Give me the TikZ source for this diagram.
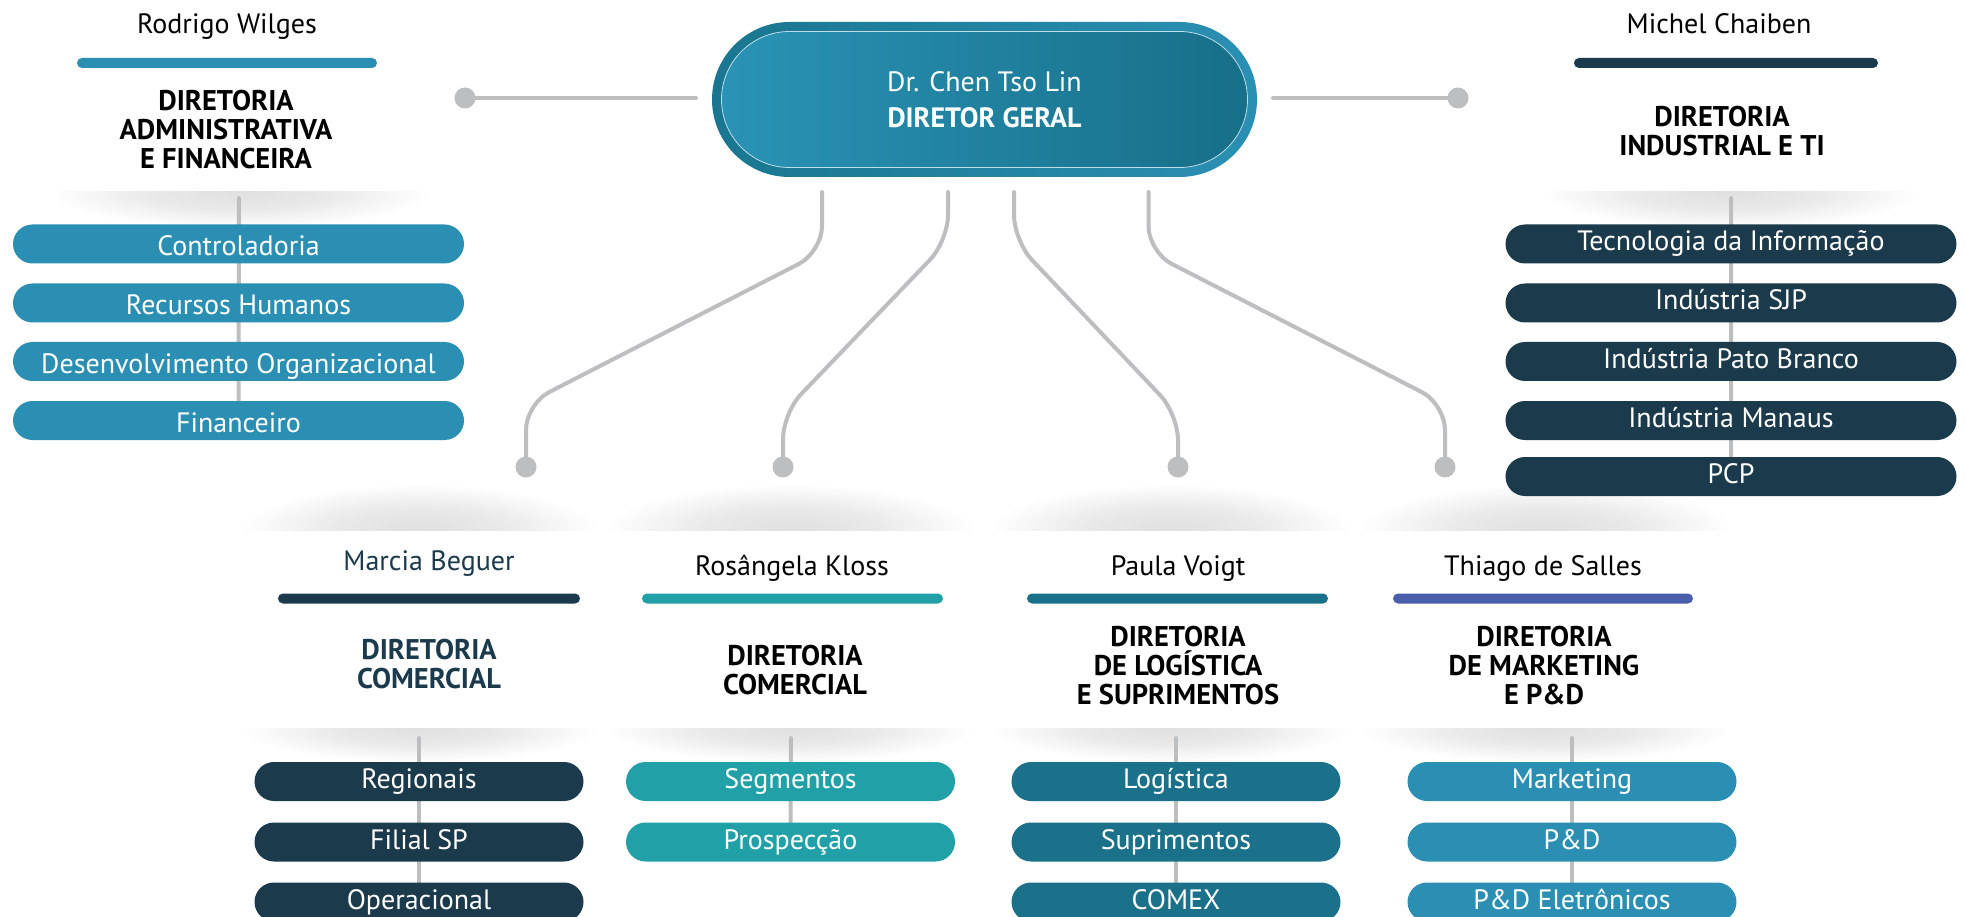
\documentclass[tikz,border=0pt]{standalone}
\usepackage{fontspec}
\setmainfont{PT Sans}
\usetikzlibrary{shapes.misc}
\definecolor{cBlue}{HTML}{2A8FB2}
\definecolor{cNavy}{HTML}{1B3A4B}
\definecolor{cTeal}{HTML}{21A0A8}
\definecolor{cDTeal}{HTML}{1A7189}
\definecolor{cIndigo}{HTML}{4A5FA9}
\definecolor{lineGray}{HTML}{BDBEC0}
\definecolor{shadowgray}{HTML}{E0E0E0}
\definecolor{ringL}{HTML}{1A7690}
\definecolor{ringR}{HTML}{2A90B3}
\definecolor{innerL}{HTML}{2A93B6}
\definecolor{innerR}{HTML}{176F88}
\pgfdeclarelayer{bglayer}
\pgfdeclarelayer{shadowlayer}
\pgfdeclarelayer{linelayer}
\pgfsetlayers{bglayer,shadowlayer,linelayer,main}
\pgfdeclareradialshading{softshadow}{\pgfpoint{0bp}{0bp}}{color(0bp)=(shadowgray); color(12bp)=(shadowgray!70!white); color(25bp)=(white); color(50bp)=(white)}
\newcommand{\downshadow}[4]{%
  \begin{scope}
    \clip (#1,#3) rectangle (#2,#3+#4);
    \shade[shading=softshadow] ({(#1+#2)/2},#3) ellipse ({(#2-#1)/2} and #4);
  \end{scope}}
\newcommand{\upshadow}[4]{%
  \begin{scope}
    \clip (#1,#3-#4) rectangle (#2,#3);
    \shade[shading=softshadow] ({(#1+#2)/2},#3) ellipse ({(#2-#1)/2} and #4);
  \end{scope}}
\tikzset{
  pill/.style={rounded rectangle, fill=#1, text=white, minimum height=39pt, inner sep=0pt,
    text height=14pt, text depth=0pt, font=\fontsize{28}{32}\selectfont},
  widepill/.style={pill=#1, minimum width=451pt},
  narrowpill/.style={pill=#1, minimum width=329pt},
  namelabel/.style={font=\fontsize{28}{32}\selectfont, anchor=base, inner sep=0pt},
  titlelabel/.style={font=\bfseries\fontsize{28.5}{29}\selectfont, align=center, anchor=north, inner sep=0pt},
  colorbar/.style={rounded rectangle, fill=#1, minimum height=10pt, inner sep=0pt},
  conn/.style={draw=lineGray, line width=4pt, line cap=round},
  dot/.style={circle, fill=lineGray, minimum size=21pt, inner sep=0pt},
}
\begin{document}
\begin{tikzpicture}[x=1pt,y=-1pt]
\useasboundingbox (0,0) rectangle (1966,917);
\begin{pgfonlayer}{bglayer}
  \fill[white] (0,0) rectangle (1966,917);
\end{pgfonlayer}

% ---------- shadows ----------
\begin{pgfonlayer}{shadowlayer}
  \downshadow{50}{430}{192}{36}
  \downshadow{1540}{1920}{192}{36}
  \upshadow{240}{598}{530}{46}
  \upshadow{605}{975}{530}{46}
  \upshadow{990}{1351}{530}{46}
  \upshadow{1358}{1733}{530}{46}
  \downshadow{240}{598}{728}{34}
  \downshadow{605}{975}{728}{34}
  \downshadow{990}{1351}{728}{34}
  \downshadow{1358}{1733}{728}{34}
\end{pgfonlayer}

% ---------- central node ----------
\node[rounded rectangle, minimum width=545pt, minimum height=155pt, inner sep=0pt,
  left color=ringL, right color=ringR] (ceo) at (984.5,99.5) {};
\node[rounded rectangle, minimum width=526pt, minimum height=136pt, inner sep=0pt,
  left color=innerL, right color=innerR, draw=white!70!cBlue, line width=0.8pt,
  text=white, align=center, font=\fontsize{28}{36}\selectfont] (ceoin) at (ceo.center)
  {Dr. Chen Tso Lin\\\textbf{DIRETOR GERAL}};

% ---------- left column ----------
\node[namelabel] (n1) at (227,34) {Rodrigo Wilges};
\node[colorbar=cBlue, minimum width=300pt] (bar1) at (227,63) {};
\node[titlelabel] (t1title) at (226,90) {DIRETORIA\\ADMINISTRATIVA\\E FINANCEIRA};
\node[widepill=cBlue, text height=24pt] (l1) at (238.5,244) {Controladoria};
\node[widepill=cBlue, text height=24pt] (l2) at (238.5,303) {Recursos Humanos};
\node[widepill=cBlue, text height=24pt] (l3) at (238.5,361.5) {Desenvolvimento Organizacional};
\node[widepill=cBlue, text height=24pt] (l4) at (238.5,420.5) {Financeiro};
\coordinate (ltop) at (239,198);

% ---------- right column ----------
\node[namelabel] (n2) at (1719,34) {Michel Chaiben};
\node[colorbar=cNavy, minimum width=304pt] (bar2) at (1726,63) {};
\node[titlelabel] (t2title) at (1722,106) {DIRETORIA\\INDUSTRIAL E TI};
\node[widepill=cNavy] (r1) at (1731,244) {Tecnologia da Informação};
\node[widepill=cNavy] (r2) at (1731,303) {Indústria SJP};
\node[widepill=cNavy] (r3) at (1731,361.5) {Indústria Pato Branco};
\node[widepill=cNavy] (r4) at (1731,420.5) {Indústria Manaus};
\node[widepill=cNavy] (r5) at (1731,476.5) {PCP};
\coordinate (rtop) at (1731,198);

% ---------- side connectors ----------
\node[dot] (dl) at (465,98) {};
\node[dot] (dr) at (1458,98) {};
\coordinate (cl) at (696,98);
\coordinate (cr) at (1273,98);

% ---------- lower connectors ----------
\node[dot] (d1) at (526,467) {};
\node[dot] (d2) at (783,467) {};
\node[dot] (d3) at (1178,467) {};
\node[dot] (d4) at (1445,467) {};
\coordinate (s1) at (822,192);   \coordinate (s1a) at (822,252);   \coordinate (s1b) at (526,404);
\coordinate (s2) at (948,192);   \coordinate (s2a) at (948,241);   \coordinate (s2b) at (783,413);
\coordinate (s3) at (1014,192);  \coordinate (s3a) at (1014,241);  \coordinate (s3b) at (1178,414);
\coordinate (s4) at (1148.5,192);\coordinate (s4a) at (1148.5,252);\coordinate (s4b) at (1445,404);

% ---------- column 1 ----------
\node[namelabel, text=cNavy] (n3) at (429,570) {Marcia Beguer};
\node[colorbar=cNavy, minimum width=302pt] (bar3) at (429,598.5) {};
\node[titlelabel, text=cNavy] (t3title) at (429,639) {DIRETORIA\\COMERCIAL};
\node[narrowpill=cNavy] (m1) at (419,781.5) {Regionais};
\node[narrowpill=cNavy] (m2) at (419,842) {Filial SP};
\node[narrowpill=cNavy] (m3) at (419,902) {Operacional};
\coordinate (mtop) at (419,738);

% ---------- column 2 ----------
\node[namelabel] (n4) at (792,575) {Rosângela Kloss};
\node[colorbar=cTeal, minimum width=301pt] (bar4) at (792.5,598.5) {};
\node[titlelabel] (t4title) at (795,645) {DIRETORIA\\COMERCIAL};
\node[narrowpill=cTeal] (g1) at (790.5,781.5) {Segmentos};
\node[narrowpill=cTeal] (g2) at (790.5,842) {Prospecção};
\coordinate (gtop) at (791,738);

% ---------- column 3 ----------
\node[namelabel] (n5) at (1178,575) {Paula Voigt};
\node[colorbar=cDTeal, minimum width=301pt] (bar5) at (1177.5,598.5) {};
\node[titlelabel] (t5title) at (1178,626) {DIRETORIA\\DE LOGÍSTICA\\E SUPRIMENTOS};
\node[narrowpill=cDTeal] (p1) at (1176,781.5) {Logística};
\node[narrowpill=cDTeal] (p2) at (1176,842) {Suprimentos};
\node[narrowpill=cDTeal] (p3) at (1176,902) {COMEX};
\coordinate (ptop) at (1176,738);

% ---------- column 4 ----------
\node[namelabel] (n6) at (1543,575) {Thiago de Salles};
\node[colorbar=cIndigo, minimum width=300pt] (bar6) at (1543,598.5) {};
\node[titlelabel] (t6title) at (1544,626) {DIRETORIA\\DE MARKETING\\E P\&D};
\node[narrowpill=cBlue] (k1) at (1572,781.5) {Marketing};
\node[narrowpill=cBlue] (k2) at (1572,842) {P\&D};
\node[narrowpill=cBlue] (k3) at (1572,902) {P\&D Eletrônicos};
\coordinate (ktop) at (1572,738);

% ---------- lines ----------
\begin{pgfonlayer}{linelayer}
  \draw[conn] (ltop) -- (l4);
  \draw[conn] (rtop) -- (r5);
  \draw[conn] (mtop) -- (m3);
  \draw[conn] (gtop) -- (g2);
  \draw[conn] (ptop) -- (p3);
  \draw[conn] (ktop) -- (k3);
  \draw[conn] (dl) -- (cl);
  \draw[conn] (cr) -- (dr);
  \draw[conn, rounded corners=26pt] (s1) -- (s1a) -- (s1b) -- (d1);
  \draw[conn, rounded corners=26pt] (s2) -- (s2a) -- (s2b) -- (d2);
  \draw[conn, rounded corners=26pt] (s3) -- (s3a) -- (s3b) -- (d3);
  \draw[conn, rounded corners=26pt] (s4) -- (s4a) -- (s4b) -- (d4);
\end{pgfonlayer}
\end{tikzpicture}
\end{document}
